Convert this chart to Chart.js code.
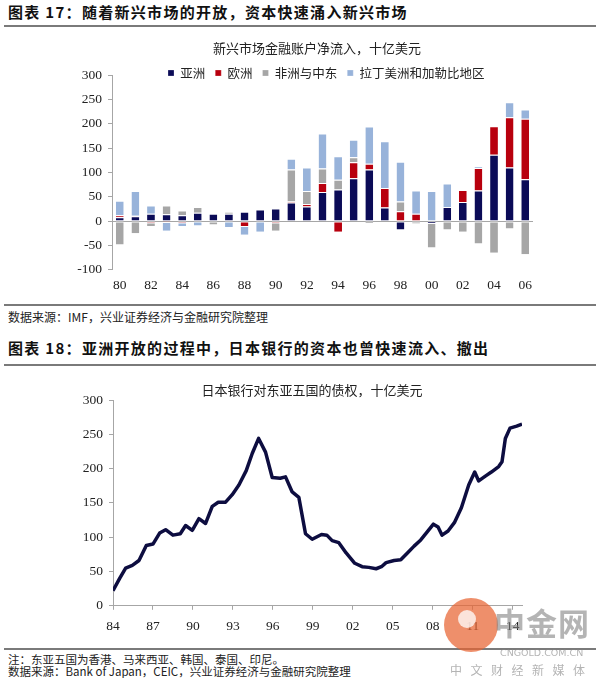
<!DOCTYPE html>
<html>
<head>
<meta charset="utf-8">
<script src="https://cdn.jsdelivr.net/npm/chart.js@4.4.1/dist/chart.umd.min.js"></script>
<style>
  body { margin: 0; width: 600px; height: 678px; background: #fff; position: relative; overflow: hidden;
         font-family: "Noto Sans CJK SC", sans-serif; }
  .abs { position: absolute; white-space: nowrap; }
  .head { left: 8px; font-size: 15px; line-height: 16px; font-weight: bold; letter-spacing: 1.3px; color: #111; }
  .rule { left: 4px; width: 592px; background: #7a7a7a; }
  .note { left: 8px; font-size: 11.5px; line-height: 13px; color: #222; }
  canvas { position: absolute; left: 0; }
  .wm { color: rgba(130, 130, 130, 0.6); }
</style>
</head>
<body>

<div class="abs head" style="top:4px">图表 17：随着新兴市场的开放，资本快速涌入新兴市场</div>
<div class="abs rule" style="top:25px;height:2px"></div>

<canvas id="flows" width="600" height="272" style="top:30px"></canvas>

<div class="abs rule" style="top:304px;height:1.5px"></div>
<div class="abs note" style="top:310px;font-size:12px;line-height:14px">数据来源：IMF，兴业证券经济与金融研究院整理</div>

<div class="abs head" style="top:340px">图表 18：亚洲开放的过程中，日本银行的资本也曾快速流入、撤出</div>
<div class="abs rule" style="top:364px;height:2px"></div>

<canvas id="claims" width="600" height="269" style="top:375px"></canvas>

<div class="abs rule" style="top:648px;height:1.5px"></div>
<div class="abs note" style="top:653px">注：东亚五国为香港、马来西亚、韩国、泰国、印尼。</div>
<div class="abs note" style="top:665px">数据来源：Bank of Japan，CEIC，兴业证券经济与金融研究院整理</div>

<!-- watermark -->
<div class="abs" style="left:444px;top:598px;width:54px;height:54px;border-radius:50%;background:rgba(232,100,50,0.72)"></div>
<div class="abs" style="left:458px;top:610px;width:18px;height:18px;border-radius:50%;background:rgba(255,255,255,0.75)"></div>
<div class="abs wm" style="left:494px;top:603px;font-size:31px;line-height:38px;font-weight:bold;letter-spacing:1px">中金网</div>
<div class="abs wm" style="left:500px;top:648px;font-size:9.5px;line-height:10px;font-family:'DejaVu Sans',sans-serif">CNGOLD.COM.CN</div>
<div class="abs wm" style="left:450px;top:663px;font-size:12px;line-height:14px;letter-spacing:8.5px">中文财经新媒体</div>

<script>
// chart 17: net financial account inflows, bn USD
const years1 = ['80','81','82','83','84','85','86','87','88','89','90','91','92','93',
                '94','95','96','97','98','99','00','01','02','03','04','05','06'];
const seriesNames = ['亚洲', '欧洲', '非洲与中东', '拉丁美洲和加勒比地区'];
const asia    = [8, 10, 15, 14, 12, 17, 15, 15, 19, 24, 26, 38, 30, 60, 65, 88, 106, 28, -17, 0, -4, 29, 39, 63, 136, 110, 86];
const europe  = [4, 1, -3, -2, -3, 0, 0, 0, -10, 0, -3, 2, 5, 18, -22, 33, 12, 40, 20, 15, 1, 0, 25, 46, 59, 103, 124];
const mideast = [-48, -25, -7, 18, 10, 12, -7, 4, 0, 0, -17, 66, 27, 30, 20, 10, -4, 0, 20, -5, -50, -17, -22, -46, -65, -15, -68];
const latam   = [30, 51, 17, -18, -7, -9, 0, -12, -18, -22, 0, 22, 48, 72, 48, 36, 76, 96, 82, 48, 61, 48, 0, 3, 0, 31, 19];

// chart 18: Japanese bank claims on five East Asian economies, bn USD
const claimYears  = [1984.0, 1984.5, 1984.95, 1985.45, 1985.95, 1986.5, 1987.0, 1987.5, 1987.95, 1988.5,
                     1989.05, 1989.45, 1989.95, 1990.45, 1990.95, 1991.45, 1991.9, 1992.45, 1992.95, 1993.45,
                     1994.0, 1994.45, 1994.93, 1995.45, 1995.95, 1996.55, 1996.95, 1997.45, 1997.95, 1998.45,
                     1998.95, 1999.65, 2000.05, 2000.45, 2000.95, 2001.5, 2002.15, 2002.7, 2003.2, 2003.75,
                     2004.15, 2004.5, 2005.1, 2005.6, 2006.1, 2006.6, 2007.1, 2007.6, 2008.05, 2008.4,
                     2008.7, 2009.15, 2009.65, 2010.15, 2010.7, 2011.15, 2011.45, 2011.95, 2012.4, 2012.95,
                     2013.2, 2013.45, 2013.8, 2014.3, 2014.7];
const claimValues = [22, 40, 55, 59, 66, 88, 90, 106, 111, 103,
                     105, 117, 110, 127, 120, 145, 151, 151, 162, 176,
                     197, 222, 244, 224, 187, 186, 188, 166, 158, 105,
                     97, 104, 103, 95, 92, 77, 62, 57, 56, 54,
                     57, 63, 66, 67, 77, 87, 96, 108, 119, 115,
                     103, 109, 122, 143, 176, 195, 182, 189, 195, 203,
                     210, 244, 259, 262, 265];
const xTickYears  = [1984, 1987, 1990, 1993, 1996, 1999, 2002, 2005, 2008, 2011, 2014];
const xTickLabels = ['84', '87', '90', '93', '96', '99', '02', '05', '08', '11', '14'];

const serif = "'Liberation Serif', 'Times New Roman', serif";
const cjk = "'Noto Sans CJK SC', sans-serif";
const axisGrey = '#a6a6a6';
const tickFont = { family: serif, size: 13.5 };
const legendFontSize = 12.5;

// move title / legend to where the reference has them, without changing the plot area
const placeBlocks = {
  id: 'placeBlocks',
  afterLayout(chart, args, opts) {
    const t = chart.titleBlock;
    if (t && opts.titleX !== undefined) {
      const half = (t.right - t.left) / 2;
      t.left = opts.titleX - half;
      t.right = opts.titleX + half;
    }
    const l = chart.legend;
    if (l && l.options.display && opts.legendX !== undefined) {
      const pad = l.options.labels.padding;
      l.left = opts.legendX - pad;
      l.right = chart.width;
      l.top = opts.legendY - pad - legendFontSize / 2;
      l.bottom = l.top + legendFontSize + 2 * pad;
    }
  }
};

function barSet(i, data, color) {
  return {
    label: seriesNames[i],
    data: data,
    backgroundColor: color,
    borderColor: '#fff',
    borderWidth: { top: 1 },
    borderSkipped: false,
    categoryPercentage: 1,
    barPercentage: 0.5,
  };
}

new Chart(document.getElementById('flows'), {
  type: 'bar',
  data: {
    labels: years1,
    datasets: [
      barSet(0, asia, '#0b0b57'),
      barSet(1, europe, '#b8000e'),
      barSet(2, mideast, '#a6a6a6'),
      barSet(3, latam, '#98b3da'),
    ],
  },
  options: {
    responsive: false,
    animation: false,
    layout: { padding: { left: 0, right: 67, top: 0, bottom: 0 } },
    scales: {
      x: {
        stacked: true,
        grid: { display: false, drawTicks: false },
        border: { display: false },
        ticks: {
          autoSkip: false,
          maxRotation: 0,
          padding: 8,
          font: tickFont,
          color: '#222',
          callback: (v, i) => (i % 2 === 0 ? years1[i] : ''),
        },
      },
      y: {
        stacked: true,
        min: -100,
        max: 300,
        ticks: { stepSize: 50, padding: 6, font: tickFont, color: '#222' },
        grid: {
          color: (ctx) => (ctx.tick && ctx.tick.value === 0 ? axisGrey : 'rgba(0,0,0,0)'),
          tickColor: axisGrey,
          tickLength: 4,
        },
        border: { color: axisGrey },
        afterFit: (s) => { s.width = 112; },
      },
    },
    plugins: {
      title: {
        display: true,
        text: '新兴市场金融账户净流入，十亿美元',
        font: { family: cjk, size: 13, weight: 'normal' },
        color: '#222',
        padding: { top: 10, bottom: 18.4 },
      },
      legend: {
        display: true,
        position: 'top',
        align: 'start',
        maxHeight: 1,
        labels: {
          boxWidth: 6,
          boxHeight: 6,
          padding: 10,
          color: '#222',
          font: { family: cjk, size: legendFontSize },
        },
      },
      tooltip: { enabled: false },
      placeBlocks: { titleX: 317, legendX: 168, legendY: 43 },
    },
  },
  plugins: [placeBlocks],
});

new Chart(document.getElementById('claims'), {
  type: 'line',
  data: {
    datasets: [{
      label: '日本银行对东亚五国的债权',
      data: claimYears.map((x, i) => ({ x: x, y: claimValues[i] })),
      borderColor: '#0d0d40',
      borderWidth: 3.5,
      borderJoinStyle: 'round',
      pointRadius: 0,
      tension: 0,
    }],
  },
  options: {
    responsive: false,
    animation: false,
    layout: { padding: { left: 0, right: 78, top: 0, bottom: 0 } },
    scales: {
      x: {
        type: 'linear',
        min: 1984,
        max: 2014.7,
        afterBuildTicks: (s) => { s.ticks = xTickYears.map((v) => ({ value: v })); },
        ticks: {
          autoSkip: false,
          maxRotation: 0,
          padding: 9,
          font: tickFont,
          color: '#222',
          callback: (v) => xTickLabels[xTickYears.indexOf(v)],
        },
        grid: { drawOnChartArea: false, tickLength: 4, tickColor: axisGrey },
        border: { color: axisGrey },
      },
      y: {
        min: 0,
        max: 300,
        ticks: { stepSize: 50, padding: 6, font: tickFont, color: '#222' },
        grid: { drawOnChartArea: false, tickLength: 4, tickColor: axisGrey },
        border: { color: axisGrey },
        afterFit: (s) => { s.width = 113; },
      },
    },
    plugins: {
      title: {
        display: true,
        text: '日本银行对东亚五国的债权，十亿美元',
        font: { family: cjk, size: 13, weight: 'normal' },
        color: '#222',
        padding: { top: 7, bottom: 2.4 },
      },
      legend: { display: false },
      tooltip: { enabled: false },
      placeBlocks: { titleX: 312 },
    },
  },
  plugins: [placeBlocks],
});
</script>
</body>
</html>
